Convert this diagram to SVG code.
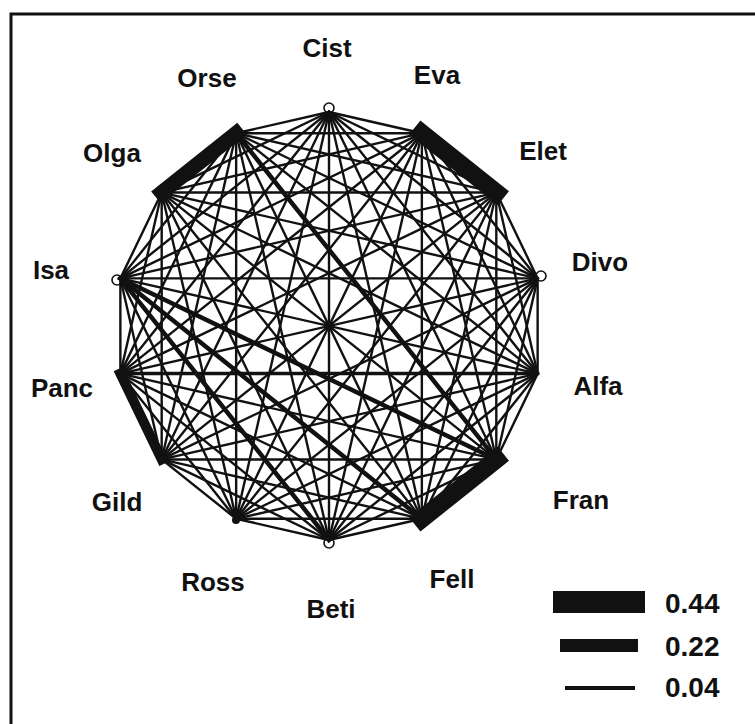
<svg xmlns="http://www.w3.org/2000/svg" width="755" height="724" viewBox="0 0 755 724">
<style>
.lbl{font-family:"Liberation Sans",Arial,sans-serif;font-size:26px;font-weight:bold;fill:#111;text-anchor:middle}
.leg{font-family:"Liberation Sans",Arial,sans-serif;font-size:28px;font-weight:bold;fill:#111}
.mk{fill:#fff;stroke:#111;stroke-width:1.6}
#edges line{stroke:#111;stroke-width:2.4;stroke-linecap:square}
#edges line.m{stroke-width:4.5}
#edges line.b{stroke-width:18}
</style>
<rect width="755" height="724" fill="#fff"/>
<polyline points="11,726 11,14 757,14" fill="none" stroke="#111" stroke-width="3"/>
<g id="node-Cist"><circle class="mk" cx="329" cy="108" r="5"/><text class="lbl" x="327" y="57">Cist</text></g>
<g id="node-Eva"><text class="lbl" x="437" y="84">Eva</text></g>
<g id="node-Elet"><text class="lbl" x="543" y="160">Elet</text></g>
<g id="node-Divo"><circle class="mk" cx="541" cy="276" r="5"/><text class="lbl" x="600" y="271">Divo</text></g>
<g id="node-Alfa"><text class="lbl" x="598" y="395">Alfa</text></g>
<g id="node-Fran"><text class="lbl" x="581" y="509">Fran</text></g>
<g id="node-Fell"><text class="lbl" x="452" y="588">Fell</text></g>
<g id="node-Beti"><circle class="mk" cx="329" cy="543" r="5"/><text class="lbl" x="331" y="618">Beti</text></g>
<g id="node-Ross"><circle cx="236" cy="520" r="4" fill="#111"/><text class="lbl" x="213" y="591">Ross</text></g>
<g id="node-Gild"><text class="lbl" x="117" y="511">Gild</text></g>
<g id="node-Panc"><text class="lbl" x="62" y="397">Panc</text></g>
<g id="node-Isa"><circle class="mk" cx="117" cy="280" r="5"/><text class="lbl" x="51" y="279">Isa</text></g>
<g id="node-Olga"><text class="lbl" x="112" y="162">Olga</text></g>
<g id="node-Orse"><text class="lbl" x="207" y="87">Orse</text></g>
<g id="edges">
<line x1="329" y1="112" x2="421.85" y2="133.19"/>
<line x1="329" y1="112" x2="496.31" y2="192.57"/>
<line x1="329" y1="112" x2="537.63" y2="278.38"/>
<line x1="329" y1="112" x2="537.63" y2="373.62"/>
<line x1="329" y1="112" x2="496.31" y2="459.43"/>
<line x1="329" y1="112" x2="421.85" y2="518.81"/>
<line x1="329" y1="112" x2="329" y2="540"/>
<line x1="329" y1="112" x2="236.15" y2="518.81"/>
<line x1="329" y1="112" x2="161.69" y2="459.43"/>
<line x1="329" y1="112" x2="120.37" y2="373.62"/>
<line x1="329" y1="112" x2="120.37" y2="278.38"/>
<line x1="329" y1="112" x2="161.69" y2="192.57"/>
<line x1="329" y1="112" x2="236.15" y2="133.19"/>
<line x1="421.85" y1="133.19" x2="537.63" y2="278.38"/>
<line x1="421.85" y1="133.19" x2="537.63" y2="373.62"/>
<line x1="421.85" y1="133.19" x2="496.31" y2="459.43"/>
<line x1="421.85" y1="133.19" x2="421.85" y2="518.81"/>
<line x1="421.85" y1="133.19" x2="329" y2="540"/>
<line x1="421.85" y1="133.19" x2="236.15" y2="518.81"/>
<line x1="421.85" y1="133.19" x2="161.69" y2="459.43"/>
<line x1="421.85" y1="133.19" x2="120.37" y2="373.62"/>
<line x1="421.85" y1="133.19" x2="120.37" y2="278.38"/>
<line x1="421.85" y1="133.19" x2="161.69" y2="192.57"/>
<line x1="421.85" y1="133.19" x2="236.15" y2="133.19"/>
<line x1="496.31" y1="192.57" x2="537.63" y2="278.38"/>
<line x1="496.31" y1="192.57" x2="537.63" y2="373.62"/>
<line x1="496.31" y1="192.57" x2="496.31" y2="459.43"/>
<line x1="496.31" y1="192.57" x2="421.85" y2="518.81"/>
<line x1="496.31" y1="192.57" x2="329" y2="540"/>
<line x1="496.31" y1="192.57" x2="236.15" y2="518.81"/>
<line x1="496.31" y1="192.57" x2="161.69" y2="459.43"/>
<line x1="496.31" y1="192.57" x2="120.37" y2="373.62"/>
<line x1="496.31" y1="192.57" x2="120.37" y2="278.38"/>
<line x1="496.31" y1="192.57" x2="161.69" y2="192.57"/>
<line x1="496.31" y1="192.57" x2="236.15" y2="133.19"/>
<line x1="537.63" y1="278.38" x2="537.63" y2="373.62"/>
<line x1="537.63" y1="278.38" x2="496.31" y2="459.43"/>
<line x1="537.63" y1="278.38" x2="421.85" y2="518.81"/>
<line x1="537.63" y1="278.38" x2="329" y2="540"/>
<line x1="537.63" y1="278.38" x2="236.15" y2="518.81"/>
<line x1="537.63" y1="278.38" x2="161.69" y2="459.43"/>
<line x1="537.63" y1="278.38" x2="120.37" y2="373.62"/>
<line x1="537.63" y1="278.38" x2="120.37" y2="278.38"/>
<line x1="537.63" y1="278.38" x2="161.69" y2="192.57"/>
<line x1="537.63" y1="278.38" x2="236.15" y2="133.19"/>
<line x1="537.63" y1="373.62" x2="496.31" y2="459.43"/>
<line x1="537.63" y1="373.62" x2="421.85" y2="518.81"/>
<line x1="537.63" y1="373.62" x2="329" y2="540"/>
<line x1="537.63" y1="373.62" x2="236.15" y2="518.81"/>
<line x1="537.63" y1="373.62" x2="161.69" y2="459.43"/>
<line class="m" x1="537.63" y1="373.62" x2="120.37" y2="373.62" style="stroke-width:3.5"/>
<line x1="537.63" y1="373.62" x2="120.37" y2="278.38"/>
<line x1="537.63" y1="373.62" x2="161.69" y2="192.57"/>
<line x1="537.63" y1="373.62" x2="236.15" y2="133.19"/>
<line x1="496.31" y1="459.43" x2="329" y2="540"/>
<line x1="496.31" y1="459.43" x2="236.15" y2="518.81"/>
<line x1="496.31" y1="459.43" x2="161.69" y2="459.43"/>
<line x1="496.31" y1="459.43" x2="120.37" y2="373.62"/>
<line class="m" x1="496.31" y1="459.43" x2="120.37" y2="278.38"/>
<line x1="496.31" y1="459.43" x2="161.69" y2="192.57"/>
<line class="m" x1="496.31" y1="459.43" x2="236.15" y2="133.19"/>
<line x1="421.85" y1="518.81" x2="329" y2="540"/>
<line x1="421.85" y1="518.81" x2="236.15" y2="518.81"/>
<line x1="421.85" y1="518.81" x2="161.69" y2="459.43"/>
<line x1="421.85" y1="518.81" x2="120.37" y2="373.62"/>
<line class="m" x1="421.85" y1="518.81" x2="120.37" y2="278.38"/>
<line x1="421.85" y1="518.81" x2="161.69" y2="192.57"/>
<line x1="421.85" y1="518.81" x2="236.15" y2="133.19"/>
<line x1="329" y1="540" x2="236.15" y2="518.81"/>
<line x1="329" y1="540" x2="161.69" y2="459.43"/>
<line x1="329" y1="540" x2="120.37" y2="373.62"/>
<line class="m" x1="329" y1="540" x2="120.37" y2="278.38"/>
<line x1="329" y1="540" x2="161.69" y2="192.57"/>
<line x1="329" y1="540" x2="236.15" y2="133.19"/>
<line x1="236.15" y1="518.81" x2="161.69" y2="459.43"/>
<line x1="236.15" y1="518.81" x2="120.37" y2="373.62"/>
<line x1="236.15" y1="518.81" x2="120.37" y2="278.38"/>
<line x1="236.15" y1="518.81" x2="161.69" y2="192.57"/>
<line x1="236.15" y1="518.81" x2="236.15" y2="133.19"/>
<line x1="161.69" y1="459.43" x2="120.37" y2="278.38"/>
<line x1="161.69" y1="459.43" x2="161.69" y2="192.57"/>
<line x1="161.69" y1="459.43" x2="236.15" y2="133.19"/>
<line x1="120.37" y1="373.62" x2="120.37" y2="278.38"/>
<line x1="120.37" y1="373.62" x2="161.69" y2="192.57"/>
<line x1="120.37" y1="373.62" x2="236.15" y2="133.19"/>
<line x1="120.37" y1="278.38" x2="161.69" y2="192.57"/>
<line x1="120.37" y1="278.38" x2="236.15" y2="133.19"/>
<line class="b" x1="421.85" y1="133.19" x2="496.31" y2="192.57"/>
<line class="b" x1="496.31" y1="459.43" x2="421.85" y2="518.81"/>
<line class="b" x1="161.69" y1="192.57" x2="236.15" y2="133.19" style="stroke-width:15"/>
<line class="b" x1="161.69" y1="459.43" x2="120.37" y2="373.62" style="stroke-width:10"/>
</g>
<g id="legend">
<rect x="553" y="591" width="92" height="22" fill="#111"/>
<rect x="560" y="639" width="78" height="13" fill="#111"/>
<rect x="565" y="686" width="70" height="4" fill="#111"/>
<text class="leg" x="665" y="613">0.44</text>
<text class="leg" x="665" y="656">0.22</text>
<text class="leg" x="665" y="697">0.04</text>
</g>
</svg>
